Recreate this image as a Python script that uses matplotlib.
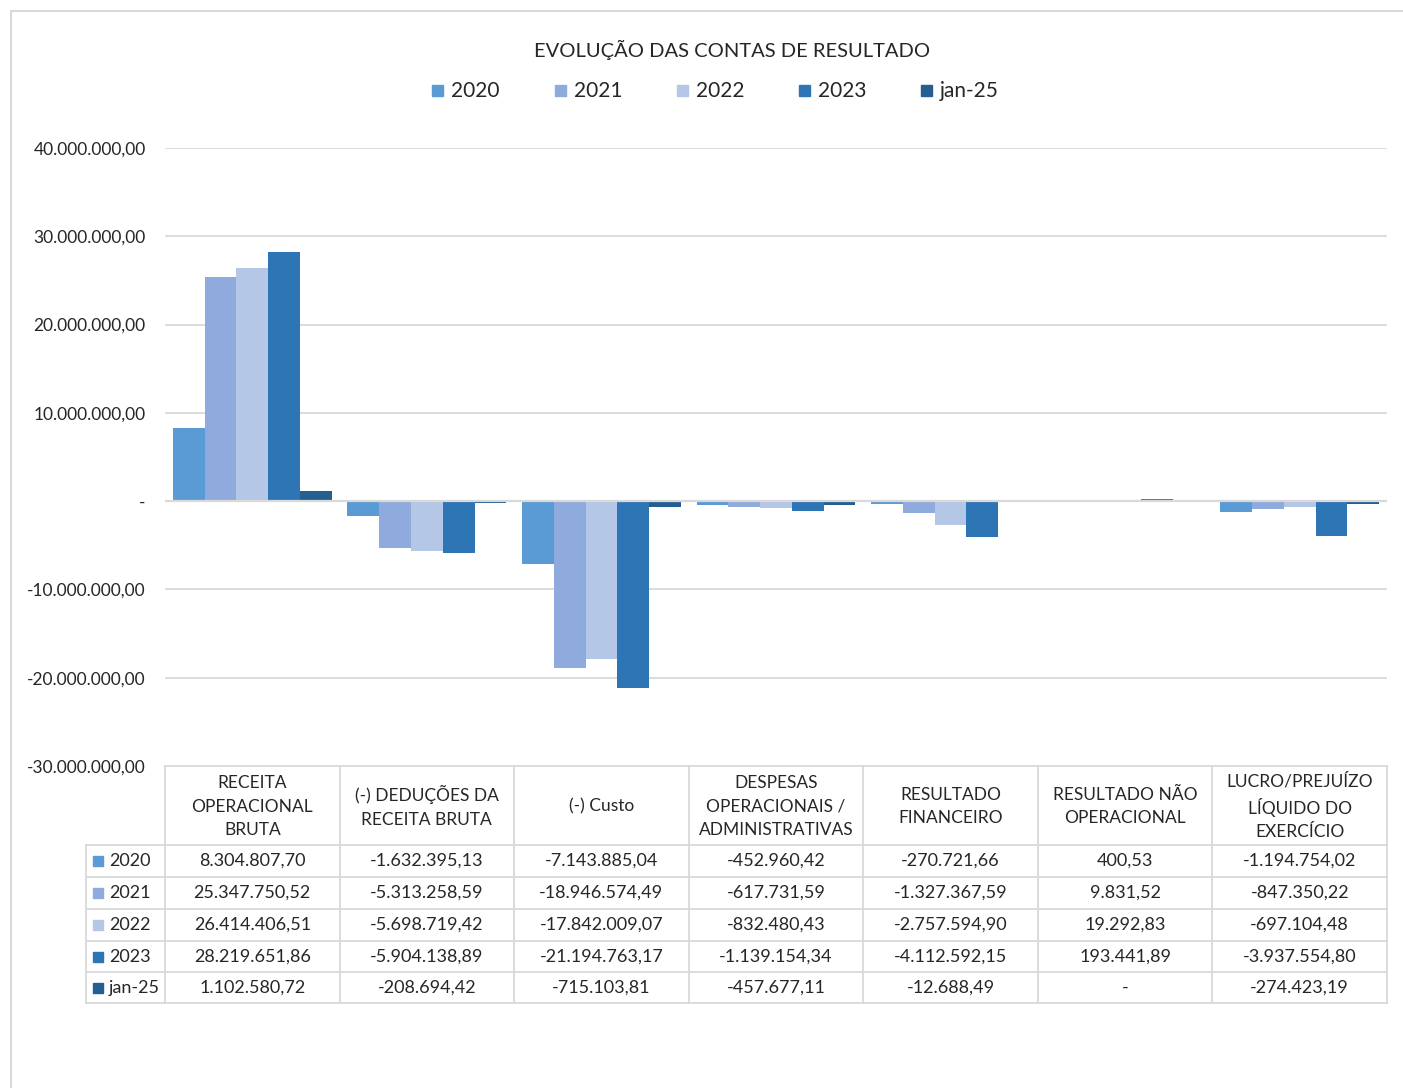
import matplotlib.pyplot as plt
from matplotlib.patches import Rectangle

plt.rcParams['font.family'] = ['Lato', 'DejaVu Sans']

categories = ['RECEITA\nOPERACIONAL\nBRUTA', '(-) DEDUÇÕES DA\nRECEITA BRUTA', '(-) Custo',
              'DESPESAS\nOPERACIONAIS /\nADMINISTRATIVAS', 'RESULTADO\nFINANCEIRO',
              'RESULTADO NÃO\nOPERACIONAL', 'LUCRO/PREJUÍZO\nLÍQUIDO DO\nEXERCÍCIO']
series_names = ['2020', '2021', '2022', '2023', 'jan-25']
v2020 = [8304807.70, -1632395.13, -7143885.04, -452960.42, -270721.66, 400.53, -1194754.02]
v2021 = [25347750.52, -5313258.59, -18946574.49, -617731.59, -1327367.59, 9831.52, -847350.22]
v2022 = [26414406.51, -5698719.42, -17842009.07, -832480.43, -2757594.90, 19292.83, -697104.48]
v2023 = [28219651.86, -5904138.89, -21194763.17, -1139154.34, -4112592.15, 193441.89, -3937554.80]
vjan25 = [1102580.72, -208694.42, -715103.81, -457677.11, -12688.49, 0, -274423.19]
series = [v2020, v2021, v2022, v2023, vjan25]
colors = ['#5B9BD5', '#8FAADC', '#B4C7E7', '#2E75B6', '#255E91']
yticks = [-30e6, -20e6, -10e6, 0, 10e6, 20e6, 30e6, 40e6]


def fmt(v):
    if v == 0:
        return '-'
    s = f'{v:,.2f}'
    return s.replace(',', 'X').replace('.', ',').replace('X', '.')


W, H = 1403, 1088
fig = plt.figure(figsize=(W / 100, H / 100), dpi=100)
grid_c = '#d9d9d9'
txt_c = '#262626'

# plot area in pixels
x0, x1 = 165, 1387
ytop, ybot = 148, 766
ax = fig.add_axes([x0 / W, (H - ybot) / H, (x1 - x0) / W, (ybot - ytop) / H])
n = len(categories)
bw = 0.182
for i, (vals, c, name) in enumerate(zip(series, colors, series_names)):
    xs = [k + (i - 2) * bw for k in range(n)]
    ax.bar(xs, vals, width=bw, color=c, label=name, zorder=3)
ax.set_xlim(-0.5, n - 0.5)
ax.set_ylim(-30e6, 40e6)
ax.set_yticks(yticks)
ax.set_yticklabels([fmt(t) for t in yticks], fontsize=12.5, color=txt_c)
ax.tick_params(axis='y', length=0, pad=14)
ax.set_xticks([])
for t in yticks[1:]:
    if t == 0:
        ax.axhline(t, color=grid_c, lw=1.6, zorder=4)
    else:
        ax.axhline(t, color=grid_c, lw=1.3, zorder=1)
for s in ax.spines.values():
    s.set_visible(False)

# overlay for table, title, border
ov = fig.add_axes([0, 0, 1, 1])
ov.set_xlim(0, W)
ov.set_ylim(H, 0)
ov.axis('off')
ov.patch.set_alpha(0)

ov.plot([11, 11, W], [H, 11, 11], color='#d9d9d9', lw=1.5)
ov.text(732, 50, 'EVOLUÇÃO DAS CONTAS DE RESULTADO', ha='center', va='center',
        fontsize=14.5, color=txt_c)

leg_x = [432, 555, 677, 799, 921]
for lx, c, name in zip(leg_x, colors, series_names):
    ov.add_patch(Rectangle((lx, 85), 11, 11, color=c))
    ov.text(lx + 19, 91, name, ha='left', va='center', fontsize=15, color=txt_c)

# data table
cw = (x1 - x0) / n
hdr_bot = 845
rows = [845, 877, 909, 941, 972, 1003]
lx0 = 86
ov.plot([x0, x1], [ybot, ybot], color=grid_c, lw=1.3)
for r in rows:
    ov.plot([lx0, x1], [r, r], color=grid_c, lw=1.3)
for k in range(n + 1):
    ov.plot([x0 + k * cw] * 2, [ybot, rows[-1]], color=grid_c, lw=1.3)
ov.plot([lx0, lx0], [rows[0], rows[-1]], color=grid_c, lw=1.3)

for k, cat in enumerate(categories):
    ov.text(x0 + (k + 0.5) * cw, (ybot + hdr_bot) / 2 + 1, cat, ha='center', va='center',
            fontsize=12.5, color=txt_c, linespacing=1.55)

for j, (vals, c, name) in enumerate(zip(series, colors, series_names)):
    yc = (rows[j] + rows[j + 1]) / 2
    ov.add_patch(Rectangle((93, yc - 5), 10, 10, color=c))
    ov.text(109, yc, name, ha='left', va='center', fontsize=13, color=txt_c)
    for k, v in enumerate(vals):
        ov.text(x0 + (k + 0.5) * cw, yc, fmt(v), ha='center', va='center',
                fontsize=13, color=txt_c)

fig.savefig('out.png', dpi=100, facecolor='white')
